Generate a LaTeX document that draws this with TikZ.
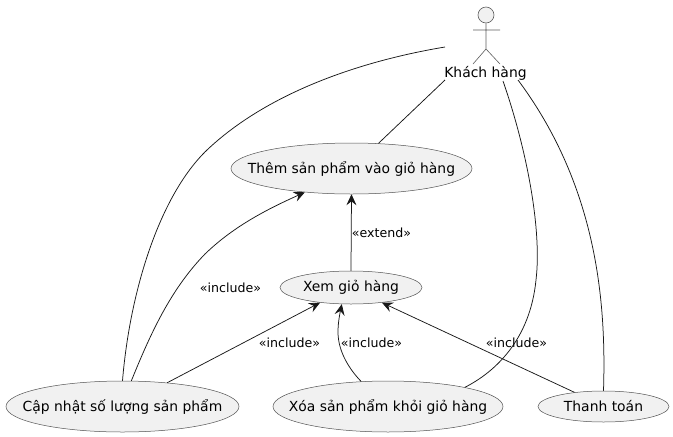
\documentclass[tikz,border=0pt]{standalone}
\usepackage{fontspec}
\setmainfont{DejaVu Sans}
\usetikzlibrary{arrows.meta,shapes.geometric}
\definecolor{ucfill}{HTML}{F1F1F1}
\definecolor{ucline}{HTML}{181818}
\newcommand{\uctext}[1]{\makebox[0pt][c]{#1}}
\tikzset{
  usecase/.style={ellipse,draw=ucline!75,line width=0.5pt,fill=ucfill,inner sep=0pt,font=\fontsize{13.9}{15}\selectfont},
  conn/.style={draw=ucline,line width=0.75pt},
  dep/.style={conn,-{Stealth[length=11pt,width=10pt,inset=4pt]}},
  lbl/.style={inner sep=0pt,font=\fontsize{12.6}{14}\selectfont,text=black},
  actorline/.style={draw=ucline!70,line width=0.6pt}
}
\begin{document}
\begin{tikzpicture}[x=1pt,y=-1pt]
\useasboundingbox (0,0) rectangle (673,437);
% actor
\node[circle,draw=ucline!70,line width=0.6pt,fill=ucfill,minimum size=16pt,inner sep=0pt] (head) at (486,15) {};
\coordinate (hip) at (486,49);
\coordinate (armL) at (473,30);
\coordinate (armR) at (500,30);
\coordinate (legL) at (473,64);
\coordinate (legR) at (500,64);
\draw[actorline] (head) -- (hip) (armL) -- (armR) (legL) -- (hip) -- (legR);
\node[inner sep=0pt,font=\fontsize{13.9}{15}\selectfont] (kh) at (485.5,73) {Khách hàng};
\coordinate (khA) at (445,47);
\coordinate (khB) at (445,80);
\coordinate (khC) at (503,81);
\coordinate (khD) at (518,80);
% use cases
\node[usecase,minimum width=241pt,minimum height=51pt] (them) at (351.5,168.5) {\uctext{Thêm sản phẩm vào giỏ hàng}};
\node[usecase,minimum width=142pt,minimum height=33pt] (xem) at (351,287.5) {\uctext{Xem giỏ hàng}};
\node[usecase,minimum width=233pt,minimum height=51pt] (capnhat) at (122.5,406.5) {\uctext{Cập nhật số lượng sản phẩm}};
\node[usecase,minimum width=230pt,minimum height=51pt] (xoa) at (388,406.5) {\uctext{Xóa sản phẩm khỏi giỏ hàng}};
\node[usecase,minimum width=131pt,minimum height=31pt] (tt) at (603.5,406.5) {\uctext{Thanh toán}};
% associations
\draw[conn] (khB) -- (them.43);
\draw[conn] (khA) .. controls (355,62) and (265,95) .. (207,150) .. controls (160,195) and (130,290) .. (capnhat.north);
\draw[conn] (xoa.14.4) .. controls (495,372) and (530,340) .. (536,280) .. controls (542,230) and (527,150) .. (khC);
\draw[conn] (tt.north) .. controls (606,310) and (600,190) .. (khD);
% dependencies
\draw[dep] (xem.north) -- (them.south);
\draw[dep] (capnhat.71.5) .. controls (150,335) and (170,290) .. (205,254) .. controls (235,225) and (270,208) .. (them.207);
\draw[dep] (capnhat.28.5) -- (xem.206);
\draw[dep] (xoa.137.4) .. controls (350,370) and (338,352) .. (338,332) .. controls (338,322) and (340,313) .. (xem.241);
\draw[dep] (tt.154) -- (xem.334);
% labels
\node[lbl] (l1) at (381.5,233) {«extend»};
\node[lbl] (l2) at (230.5,288) {«include»};
\node[lbl] (l3) at (289.5,343) {«include»};
\node[lbl] (l4) at (371.5,343) {«include»};
\node[lbl] (l5) at (516.5,343) {«include»};
\end{tikzpicture}
\end{document}
